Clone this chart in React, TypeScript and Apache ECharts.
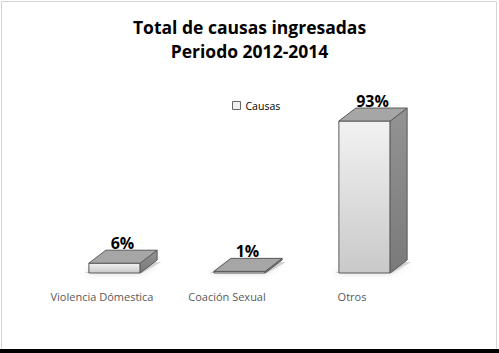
import React, { useEffect, useRef } from "react";
import * as echarts from "echarts";

const categories = ["Violencia Dómestica", "Coación Sexual", "Otros"];
const values = [6, 1, 93];
const seriesName = "Causas";
const titleLines = ["Total de causas ingresadas", "Periodo 2012-2014"];

export default function App() {
  const ref = useRef<HTMLDivElement>(null);
  useEffect(() => {
    if (!ref.current) return;
    const chart = echarts.init(ref.current, null, { renderer: "svg" });
    const DX = 17;
    const DY = 13;
    const SHIFT = 12.5;
    const renderItem = (params: any, api: any) => {
      const idx = api.value(0);
      const val = api.value(1);
      const p0 = api.coord([idx, 0]);
      const p1 = api.coord([idx, val]);
      const bw = api.size([1, 0])[0] * 0.41;
      const x0 = p0[0] + SHIFT - bw / 2;
      const x1 = x0 + bw;
      const yb = p0[1];
      const yt = p1[1];
      const stroke = "#5a5a5a";
      return {
        type: "group",
        children: [
          {
            type: "polygon",
            shape: {
              points: [
                [x0 - 4, yb],
                [x1 + 2, yb],
                [x1 + DX + 4, yb - DY + 2],
                [x0 + DX, yb - DY + 2],
              ],
            },
            style: {
              fill: "rgba(120,120,120,0.3)",
              shadowBlur: 6,
              shadowColor: "rgba(0,0,0,0.4)",
              shadowOffsetY: 1,
              shadowOffsetX: -2,
            },
            z2: 0,
          },
          {
            type: "rect",
            shape: { x: x0, y: yt, width: bw, height: yb - yt },
            style: {
              fill: new echarts.graphic.LinearGradient(0, 0, 0, 1, [
                { offset: 0, color: "#f2f2f2" },
                { offset: 1, color: "#c9c9c9" },
              ]),
              stroke,
              lineWidth: 1,
            },
            z2: 2,
          },
          {
            type: "polygon",
            shape: {
              points: [
                [x1, yt],
                [x1 + DX, yt - DY],
                [x1 + DX, yb - DY],
                [x1, yb],
              ],
            },
            style: {
              fill: new echarts.graphic.LinearGradient(0, 0, 0, 1, [
                { offset: 0, color: "#939393" },
                { offset: 1, color: "#7a7a7a" },
              ]),
              stroke,
              lineWidth: 1,
            },
            z2: 2,
          },
          {
            type: "polygon",
            shape: {
              points: [
                [x0, yt],
                [x0 + DX, yt - DY],
                [x1 + DX, yt - DY],
                [x1, yt],
              ],
            },
            style: { fill: "#a6a6a6", stroke, lineWidth: 1 },
            z2: 3,
          },
          {
            type: "text",
            x: x0 + bw / 2 + 8,
            y: yt - DY + 1,
            style: {
              text: val + "%",
              fill: "#000",
              font: "bold 16px 'Open Sans', sans-serif",
              align: "center",
              verticalAlign: "bottom",
            },
            z2: 5,
          },
        ],
      };
    };
    chart.setOption({
      animation: false,
      backgroundColor: "#fff",
      title: {
        text: titleLines.join("\n"),
        left: "center",
        top: 10,
        textStyle: {
          fontFamily: "'Open Sans', sans-serif",
          fontWeight: "bold",
          fontSize: 17.5,
          lineHeight: 24,
          color: "#000",
        },
      },
      legend: {
        left: 227,
        top: 95,
        itemWidth: 8,
        itemHeight: 8,
        itemGap: 4,
        data: [
          {
            name: seriesName,
            icon: "rect",
            itemStyle: { color: "#efefef", borderColor: "#666", borderWidth: 1 },
          },
        ],
        textStyle: {
          fontFamily: "'Open Sans', sans-serif",
          fontSize: 10.5,
          color: "#000",
          padding: [0, 0, 0, 0],
        },
      },
      grid: { left: 39.5, right: 84.5, top: 109.6, bottom: 80, containLabel: false },
      xAxis: {
        type: "category",
        data: categories,
        axisLine: { show: false },
        axisTick: { show: false },
        axisLabel: {
          interval: 0,
          margin: 18,
          color: "#595959",
          fontSize: 11,
          fontFamily: "'Open Sans', sans-serif",
        },
      },
      yAxis: {
        type: "value",
        min: 0,
        max: 100,
        show: false,
        splitLine: { show: false },
      },
      series: [
        {
          name: seriesName,
          type: "custom",
          renderItem,
          itemStyle: { color: "#efefef", borderColor: "#666" },
          data: values.map((v, i) => [i, v]),
          encode: { x: 0, y: 1 },
        },
      ],
      graphic: [
        {
          type: "rect",
          shape: { x: 1.5, y: 1.5, width: 495, height: 360 },
          style: { fill: "none", stroke: "#d4d4d4", lineWidth: 1 },
          silent: true,
        },
        {
          type: "rect",
          shape: { x: 0, y: 349, width: 499, height: 4 },
          style: { fill: "#000" },
          silent: true,
        },
      ],
    });
    return () => chart.dispose();
  }, []);
  return (
    <div
      ref={ref}
      style={{ position: "fixed", left: 0, top: 0, width: 499, height: 353 }}
    />
  );
}
